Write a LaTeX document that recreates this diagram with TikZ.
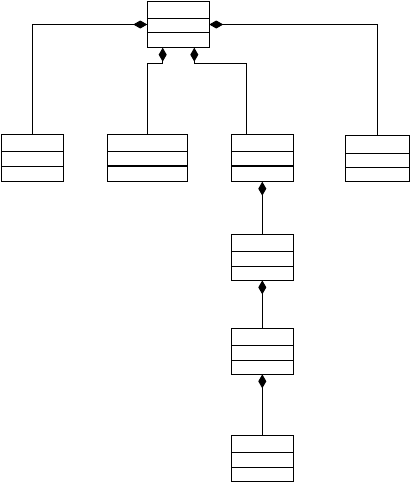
\documentclass[tikz,border=0pt]{standalone}
\usetikzlibrary{arrows.meta}
\begin{document}
\begin{tikzpicture}[x=1pt,y=-1pt,line width=1pt,
  cls/.style={draw,rectangle,inner sep=0pt,outer sep=0pt},
  comp/.style={-{Diamond[length=14pt,width=8pt]}},
  sep/.style={line width=1pt},
  thicksep/.style={line width=2pt}]
\useasboundingbox (0,0) rectangle (410,483);
% class boxes: \node at centre with size
\node[cls,minimum width=62pt,minimum height=46.4pt] (top) at (178.3,24.5) {};
\node[cls,minimum width=61.6pt,minimum height=47.4pt] (b1) at (32.5,158) {};
\node[cls,minimum width=80pt,minimum height=47.4pt] (b2) at (147.3,158) {};
\node[cls,minimum width=62pt,minimum height=47.4pt] (b3) at (262.3,158) {};
\node[cls,minimum width=63.7pt,minimum height=46.4pt] (b4) at (377.2,158.5) {};
\node[cls,minimum width=62pt,minimum height=46.3pt] (b5) at (262.3,257.2) {};
\node[cls,minimum width=62pt,minimum height=46pt] (b6) at (262.3,351.3) {};
\node[cls,minimum width=62pt,minimum height=46pt] (b7) at (262.3,458.3) {};
% compartments
\draw[sep] (top.west |- 0,18.3) -- (top.east |- 0,18.3);
\draw[sep] (top.west |- 0,32.3) -- (top.east |- 0,32.3);
\draw[sep] (b1.west |- 0,151) -- (b1.east |- 0,151);
\draw[sep] (b1.west |- 0,166.5) -- (b1.east |- 0,166.5);
\draw[sep] (b2.west |- 0,151) -- (b2.east |- 0,151);
\draw[thicksep] (b2.west |- 0,165.7) -- (b2.east |- 0,165.7);
\draw[sep] (b3.west |- 0,151) -- (b3.east |- 0,151);
\draw[thicksep] (b3.west |- 0,165.7) -- (b3.east |- 0,165.7);
\draw[sep] (b4.west |- 0,153) -- (b4.east |- 0,153);
\draw[sep] (b4.west |- 0,167.7) -- (b4.east |- 0,167.7);
\draw[sep] (b5.west |- 0,251.3) -- (b5.east |- 0,251.3);
\draw[sep] (b5.west |- 0,266.3) -- (b5.east |- 0,266.3);
\draw[sep] (b6.west |- 0,345.3) -- (b6.east |- 0,345.3);
\draw[sep] (b6.west |- 0,360.3) -- (b6.east |- 0,360.3);
\draw[sep] (b7.west |- 0,452.3) -- (b7.east |- 0,452.3);
\draw[sep] (b7.west |- 0,467.3) -- (b7.east |- 0,467.3);
% composition connectors
\draw[comp] (b1.north) |- (top.west);
\draw[comp] (b4.north) |- (top.east);
\coordinate (j2) at (162.7,63);
\coordinate (j3) at (194.3,63);
\draw[comp] (b2.north) |- (j2) -- (j2 |- top.south);
\draw[comp] ([xshift=-15.6pt]b3.north) |- (j3) -- (j3 |- top.south);
\draw[comp] (b5.north) -- (b3.south);
\draw[comp] (b6.north) -- (b5.south);
\draw[comp] (b7.north) -- (b6.south);
\end{tikzpicture}
\end{document}
